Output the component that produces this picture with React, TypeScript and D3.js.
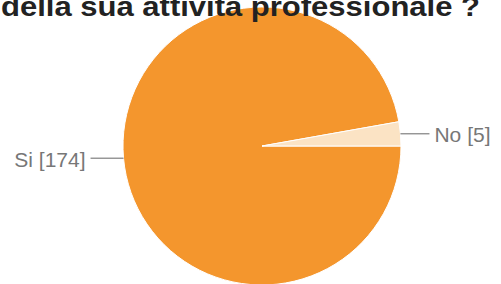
import React from 'react';
import * as d3 from 'd3';

const answers = ['Si', 'No'];
const counts = [174, 5];
const colors = ['#F4962D', '#FBE3C4'];
const title = 'della sua attività professionale ?';

export default function App() {
    const width = 501;
    const height = 284;
    const cx = 262;
    const cy = 146;
    const radius = 139;

    const pie = d3.pie<number>()
        .sort(null)
        .startAngle(Math.PI / 2)
        .endAngle(Math.PI / 2 + 2 * Math.PI);
    const arcs = pie(counts);
    const arc = d3.arc<d3.PieArcDatum<number>>().innerRadius(0).outerRadius(radius);

    return (
        <svg width={width} height={height}
            style={{ position: 'absolute', left: 0, top: 0, background: '#fff' }}>
            <g transform={`translate(${cx},${cy})`}>
                {arcs.map((a, i) => (
                    <path key={i} d={arc(a) || ''} fill={colors[i]} stroke="#fff" strokeWidth={1} />
                ))}
                {arcs.map((a, i) => {
                    const mid = (a.startAngle + a.endAngle) / 2;
                    const px = Math.sin(mid) * radius;
                    const py = -Math.cos(mid) * radius;
                    const left = px < 0;
                    const lineLen = left ? 33 : 29;
                    const x2 = left ? px - lineLen : px + lineLen;
                    return (
                        <g key={'l' + i}>
                            <line x1={px} y1={py} x2={x2} y2={py} stroke="#666" strokeWidth={1} />
                            <text x={left ? x2 - 5 : x2 + 5} y={py + 1}
                                textAnchor={left ? 'end' : 'start'}
                                dominantBaseline="central"
                                fontFamily="Liberation Sans, Arial, sans-serif"
                                fontSize={21} fill="#777">
                                {`${answers[i]} [${counts[i]}]`}
                            </text>
                        </g>
                    );
                })}
            </g>
            <text x={1} y={16} fontFamily="Liberation Sans, Arial, sans-serif"
                fontWeight="bold" fontSize={28} fill="#222"
                textLength={479} lengthAdjust="spacingAndGlyphs">
                {title}
            </text>
        </svg>
    );
}
